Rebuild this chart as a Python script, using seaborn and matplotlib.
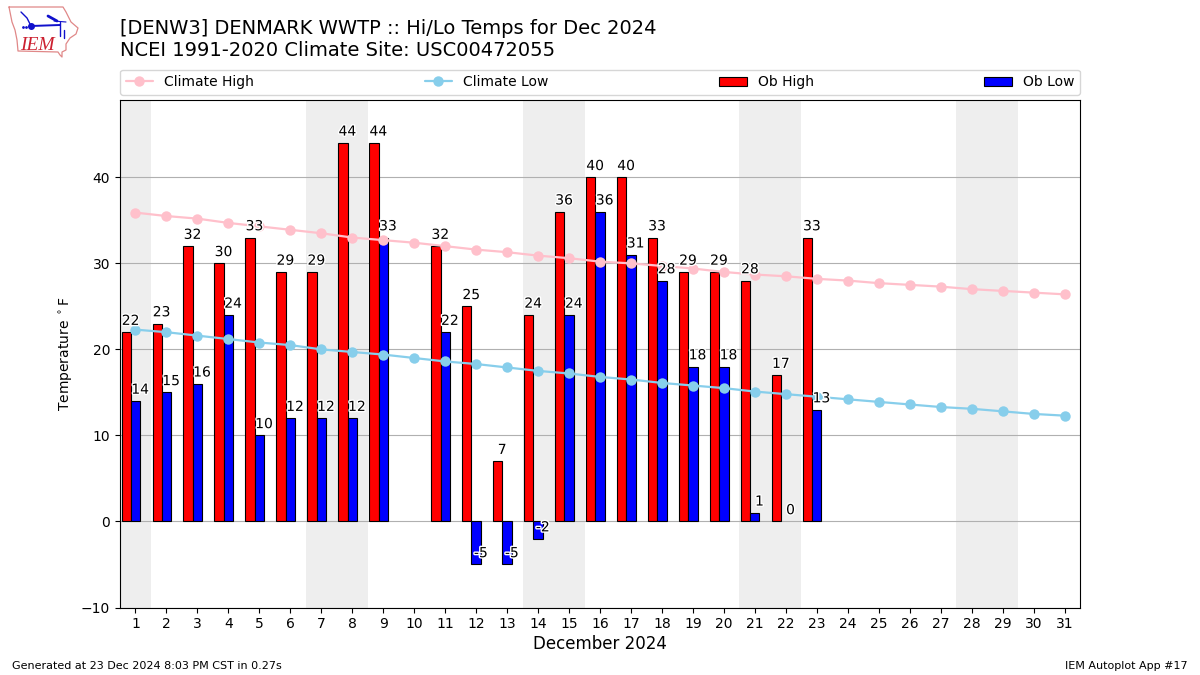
import matplotlib
matplotlib.use("Agg")
import matplotlib.pyplot as plt
import matplotlib.patheffects as pe
import numpy as np
import pandas as pd
import seaborn as sns

days = list(range(1, 32))
climate_high = [35.9, 35.5, 35.2, 34.7, 34.3, 33.9, 33.5, 33.0, 32.7, 32.4, 32.0,
                31.6, 31.3, 30.9, 30.6, 30.2, 30.0, 29.7, 29.4, 29.0, 28.7, 28.5,
                28.2, 28.0, 27.7, 27.5, 27.3, 27.0, 26.8, 26.6, 26.4]
climate_low = [22.3, 22.0, 21.6, 21.2, 20.8, 20.5, 20.0, 19.7, 19.4, 19.0, 18.6,
               18.3, 17.9, 17.5, 17.2, 16.8, 16.5, 16.1, 15.8, 15.5, 15.1, 14.8,
               14.5, 14.2, 13.9, 13.6, 13.3, 13.1, 12.8, 12.5, 12.3]
ob_days = [1, 2, 3, 4, 5, 6, 7, 8, 9, 11, 12, 13, 14, 15, 16, 17, 18, 19, 20, 21, 22, 23]
ob_high = [22, 23, 32, 30, 33, 29, 29, 44, 44, 32, 25, 7, 24, 36, 40, 40, 33, 29, 29, 28, 17, 33]
ob_low = [14, 15, 16, 24, 10, 12, 12, 12, 33, 22, -5, -5, -2, 24, 36, 31, 28, 18, 18, 1, 0, 13]
weekends = [(0.5, 1.5), (6.5, 8.5), (13.5, 15.5), (20.5, 22.5), (27.5, 29.5)]

sns.set_style("white", {"text.color": "black", "axes.labelcolor": "black",
                        "xtick.color": "black", "ytick.color": "black"})
plt.rcParams["font.family"] = ["DejaVu Sans"]

fig = plt.figure(figsize=(12, 6.75), dpi=100)
ax = fig.add_axes([0.1, 0.1, 0.8, 0.752])

clim = pd.DataFrame({"day": days, "high": climate_high, "low": climate_low})

for start, end in weekends:
    ax.axvspan(start, end, color="#eeeeee", lw=0, zorder=1)

x = np.array(ob_days)
ax.bar(x - 0.3, ob_high, width=0.3, color="red", edgecolor="k", lw=0.8, label="Ob High", zorder=3)
# a zero height bar leaves no black line in the original
low_edges = [0 if v == 0 else 0.8 for v in ob_low]
ax.bar(x, ob_low, width=0.3, color="blue", edgecolor="k", linewidth=low_edges, label="Ob Low", zorder=3)

sns.lineplot(data=clim, x="day", y="high", ax=ax, color="pink", marker="o", markersize=7.5,
             markeredgewidth=0, lw=1.6, label="Climate High", zorder=4)
sns.lineplot(data=clim, x="day", y="low", ax=ax, color="skyblue", marker="o", markersize=7.5,
             markeredgewidth=0, lw=1.6, label="Climate Low", zorder=4)

# value labels
stroke = [pe.withStroke(linewidth=2, foreground="white")]
for d, hi, lo in zip(ob_days, ob_high, ob_low):
    ax.text(d - 0.16, hi + 0.5, str(hi), ha="center", va="bottom", fontsize=10,
            path_effects=stroke, zorder=5)
    ax.text(d + 0.15, lo + 0.5, str(lo), ha="center", va="bottom", fontsize=10,
            path_effects=stroke, zorder=5)

ax.set_xlim(0.5, 31.5)
ax.set_ylim(-10, 49)
ax.set_xticks(days)
ax.set_yticks(range(-10, 50, 10))
ax.tick_params(axis="both", which="major", length=3.5, width=0.8, bottom=True, left=True, labelsize=10, color="k")
ax.yaxis.grid(True, color="#b0b0b0", lw=0.8, zorder=2)
ax.set_axisbelow(False)
for line in ax.get_ygridlines():
    line.set_zorder(2)
for spine in ax.spines.values():
    spine.set_edgecolor("k")
    spine.set_linewidth(0.8)
    spine.set_zorder(6)
ax.set_xlabel("December 2024", fontsize=12, labelpad=3)
ax.set_ylabel(r"Temperature $^\circ$F", fontsize=10, labelpad=4)

handles, labels = ax.get_legend_handles_labels()
order = [labels.index(n) for n in ["Climate High", "Climate Low", "Ob High", "Ob Low"]]
ax.legend([handles[i] for i in order], [labels[i] for i in order], ncol=4, mode="expand",
          loc="lower left", bbox_to_anchor=(0, 1.01, 1, 0.05), borderaxespad=0, fontsize=10,
          frameon=True, edgecolor="#cccccc", framealpha=0.8)

fig.text(0.1, 0.9585, "[DENW3] DENMARK WWTP :: Hi/Lo Temps for Dec 2024", fontsize=14, va="center")
fig.text(0.1, 0.925, "NCEI 1991-2020 Climate Site: USC00472055", fontsize=14, va="center")
fig.text(0.01, 0.013, "Generated at 23 Dec 2024 8:03 PM CST in 0.27s", fontsize=8, va="center")
fig.text(0.99, 0.013, "IEM Autoplot App #17", fontsize=8, va="center", ha="right")

# logo, pixel coordinates of the 90x61 corner
logo = fig.add_axes([0, 1 - 61 / 675, 90 / 1200, 61 / 675])
logo.set_xlim(0, 90)
logo.set_ylim(61, 0)
logo.axis("off")
outline_x = [9, 63, 66, 71, 78, 76, 70, 66, 66, 62, 62, 60, 58, 18, 17, 15, 12, 9]
outline_y = [7, 7, 12, 22, 28, 34, 38, 44, 50, 52, 57, 55, 52, 51, 40, 30, 22, 7]
logo.plot(outline_x, outline_y, color="#e08888", lw=0.9)
logo.plot([31, 60], [26, 25], color="#1010cc", lw=1.4)
logo.plot([31], [26], "o", color="#1010cc", ms=4)
logo.plot([48, 57], [16, 21], color="#1010cc", lw=2)
logo.plot([54, 66], [21, 22], color="#1010cc", lw=0.8)
logo.plot([60, 60], [22, 36], color="#1010cc", lw=1)
logo.plot([64, 64], [30, 38], color="#1010cc", lw=1)
logo.plot([21, 27, 31], [12, 18, 26], color="#1010cc", lw=1)
logo.plot([23, 26], [27, 27], ".", color="#1010cc", ms=2)
logo.text(20, 45, "IEM", color="#cc2030", fontsize=14, family="Liberation Serif", style="italic", va="center")

fig.savefig("out.png", dpi=100)
